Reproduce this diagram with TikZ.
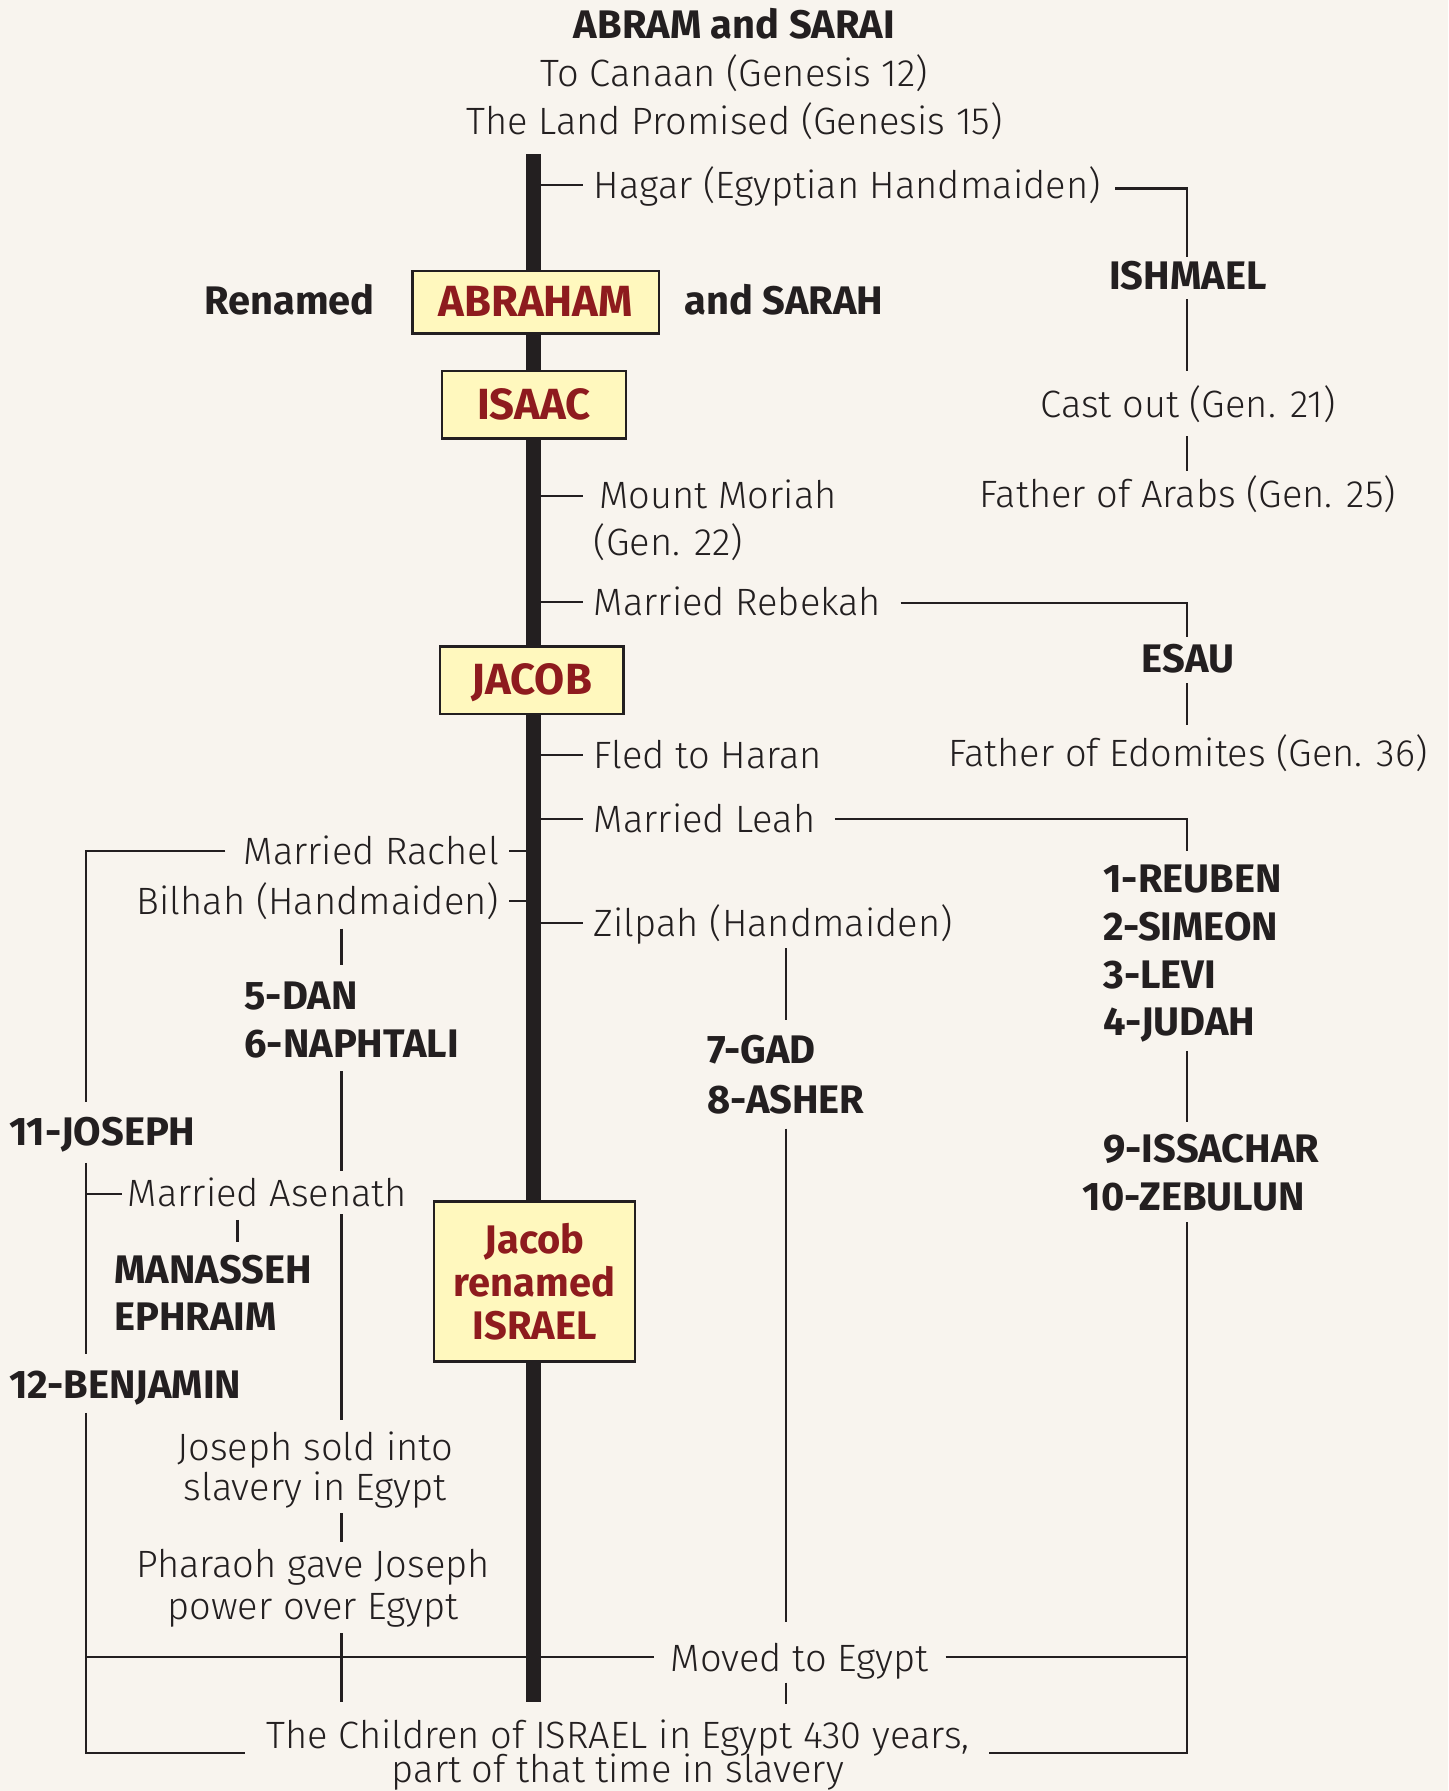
\documentclass[tikz,border=0pt]{standalone}
\usepackage{fontspec}
\setmainfont{Fira Sans}[UprightFont=* Light, BoldFont=* Bold]
\usetikzlibrary{calc}
\definecolor{bg}{HTML}{F8F4EE}
\definecolor{ink}{HTML}{231F20}
\definecolor{boxred}{HTML}{8E1B1E}
\definecolor{boxfill}{HTML}{FFF8BE}
\begin{document}
\begin{tikzpicture}[x=0.571bp,y=-0.571bp,
  txt/.style={inner sep=0pt, outer sep=0pt, text height=13.1bp, text depth=0pt, font=\fontsize{19.1}{23}\selectfont, text=ink},
  bname/.style={txt, font=\fontsize{20}{24}\selectfont\bfseries},
  namebox/.style={draw=ink, line width=1.2bp, fill=boxfill, inner sep=0pt, outer sep=0pt, text=boxred, font=\fontsize{21.9}{26}\selectfont\bfseries, align=center},
  conn/.style={draw=ink, line width=1.1bp},
]
\fill[bg] (0,0) rectangle (1268,1568);
\useasboundingbox (0,0) rectangle (1268,1568);

\coordinate (spinetop) at (467,135);
\coordinate (spinebot) at (467,1490);
\coordinate (rx) at (1039,0);
\coordinate (lx) at (75,0);
\coordinate (dx) at (299,0);
\coordinate (gx) at (688,0);
\coordinate (mx) at (208,0);

% texts
\node[bname] (title) at (643,22) {ABRAM and SARAI};
\node[txt] (canaan) at (643,64) {To Canaan (Genesis 12)};
\node[txt] (land) at (643,106) {The Land Promised (Genesis 15)};
\node[txt,anchor=west] (hagar) at (520,162) {Hagar (Egyptian Handmaiden)};
\node[bname] (ishmael) at (1040,242) {ISHMAEL};
\node[txt] (castout) at (1040,354) {Cast out (Gen. 21)};
\node[txt] (arabs) at (1040,433) {Father of Arabs (Gen. 25)};
\node[bname,anchor=east] (renamed) at (328,264) {Renamed};
\node[bname,anchor=west] (sarah) at (599,264) {and SARAH};
\node[txt,anchor=west] (moriah1) at (525,434) {Mount Moriah};
\node[txt,anchor=west] (moriah2) at (520,475) {(Gen. 22)};
\node[txt,anchor=west] (rebekah) at (520,527) {Married Rebekah};
\node[bname] (esau) at (1040,577) {ESAU};
\node[txt] (edomites) at (1040,660) {Father of Edomites (Gen. 36)};
\node[txt,anchor=west] (haran) at (520,661) {Fled to Haran};
\node[txt,anchor=west] (leah) at (520,717) {Married Leah};
\node[txt,anchor=east] (rachel) at (437,745) {Married Rachel};
\node[txt,anchor=east] (bilhah) at (437,789) {Bilhah (Handmaiden)};
\node[txt,anchor=west] (zilpah) at (520,808) {Zilpah (Handmaiden)};
\node[bname,anchor=west] (reuben) at (966,770) {1-REUBEN};
\node[bname,anchor=west] (simeon) at (966,812) {2-SIMEON};
\node[bname,anchor=west] (levi) at (966,854) {3-LEVI};
\node[bname,anchor=west] (judah) at (966,895) {4-JUDAH};
\node[bname,anchor=west] (issachar) at (966,1006) {9-ISSACHAR};
\node[bname,anchor=west] (zebulun) at (948,1048) {10-ZEBULUN};
\node[bname,anchor=west] (dan) at (214,872) {5-DAN};
\node[bname,anchor=west] (naphtali) at (214,914) {6-NAPHTALI};
\node[bname,anchor=west] (gad) at (619,920) {7-GAD};
\node[bname,anchor=west] (asher) at (619,963) {8-ASHER};
\node[bname,anchor=west] (joseph) at (8,991) {11-JOSEPH};
\node[txt,anchor=west] (asenath) at (112,1045) {Married Asenath};
\node[bname,anchor=west] (manasseh) at (100,1112) {MANASSEH};
\node[bname,anchor=west] (ephraim) at (100,1153) {EPHRAIM};
\node[bname,anchor=west] (benjamin) at (8,1213) {12-BENJAMIN};
\node[txt] (sold1) at (276,1267) {Joseph sold into};
\node[txt] (sold2) at (276,1302) {slavery in Egypt};
\node[txt] (pharaoh1) at (274,1370) {Pharaoh gave Joseph};
\node[txt] (pharaoh2) at (274,1406) {power over Egypt};
\node[txt] (moved) at (700,1452) {Moved to Egypt};
\node[txt] (children1) at (541,1519) {The Children of ISRAEL in Egypt 430 years,};
\node[txt] (children2) at (541,1549) {part of that time in slavery};

% spine ticks
\draw[conn] (spinetop |- hagar.west) -- ($(hagar.west)+(-10,0)$);
\draw[conn] (spinetop |- moriah1.west) -- ($(moriah1.west)+(-15,0)$);
\draw[conn] (spinetop |- rebekah.west) -- ($(rebekah.west)+(-10,0)$);
\draw[conn] (spinetop |- haran.west) -- ($(haran.west)+(-10,0)$);
\draw[conn] (spinetop |- leah.west) -- ($(leah.west)+(-10,0)$);
\draw[conn] (spinetop |- zilpah.west) -- ($(zilpah.west)+(-10,0)$);
\draw[conn] (spinetop |- rachel.east) -- ($(rachel.east)+(9,0)$);
\draw[conn] (spinetop |- bilhah.east) -- ($(bilhah.east)+(9,0)$);

% right column
\draw[conn] ($(hagar.east)+(13,3)$) -| ($(rx |- ishmael)+(0,-17)$);
\draw[conn] ($(rx|-ishmael)+(0,20)$) -- ($(rx|-castout)+(0,-29)$);
\draw[conn] ($(rx|-castout)+(0,28)$) -- ($(rx|-arabs)+(0,-21)$);
\draw[conn] ($(rebekah.east)+(17,1)$) -| ($(rx|-esau)+(0,-19)$);
\draw[conn] ($(rx|-esau)+(0,21)$) -- ($(rx|-edomites)+(0,-25)$);
\draw[conn] ($(leah.east)+(17,0)$) -| ($(rx|-reuben)+(0,-25)$);
\draw[conn] ($(rx|-judah)+(0,25)$) -- ($(rx|-issachar)+(0,-24)$);
\draw[conn] ($(rx|-zebulun)+(0,22)$) -- ($(rx|-children1)+(0,16)$) -- ($(children1.east)+(17,16)$);
\draw[conn] ($(moved.east)+(15,-1)$) -- ($(rx |- moved)+(0,-1)$);

% left columns
\draw[conn] ($(rachel.west)+(-16,0)$) -| ($(lx|-joseph)+(0,-26)$);
\draw[conn] ($(dx|-bilhah)+(0,24)$) -- ($(dx|-dan)+(0,-27)$);
\draw[conn] ($(dx|-naphtali)+(0,24)$) -- ($(dx|-asenath)+(0,-20)$);
\draw[conn] ($(dx|-asenath)+(0,18)$) -- ($(dx|-sold1)+(0,-24)$);
\draw[conn] ($(dx|-sold2)+(0,23)$) -- ($(dx|-pharaoh1)+(0,-20)$);
\draw[conn] ($(dx|-pharaoh2)+(0,24)$) -- (dx |- spinebot);
\draw[conn] ($(gx|-zilpah)+(0,22)$) -- ($(gx|-gad)+(0,-27)$);
\draw[conn] ($(gx|-asher)+(0,25)$) -- ($(gx|-moved)+(0,-32)$);
\draw[conn] ($(gx|-moved)+(0,21)$) -- ($(gx|-children1)+(0,-27)$);
\draw[conn] ($(lx|-joseph)+(0,27)$) -- ($(lx|-benjamin)+(0,-28)$);
\draw[conn] (lx|-asenath) -- ($(asenath.west)+(-5,0)$);
\draw[conn] ($(mx|-asenath)+(0,23)$) -- ($(mx|-manasseh)+(0,-25)$);
\draw[conn] ($(lx|-benjamin)+(0,24)$) -- ($(lx|-children1)+(0,16)$) -- ($(children1.west)+(-19,16)$);
\draw[conn] ($(lx|-moved)+(0,-1)$) -- ($(moved.west)+(-15,-1)$);

% spine and boxes
\draw[ink, line width=7.4bp] (spinetop) -- (spinebot);
\node[namebox, minimum width=123.3bp, minimum height=31.4bp, text height=14.2bp, text depth=0pt] (abraham) at (469,264.5) {ABRAHAM};
\node[namebox, minimum width=91.9bp, minimum height=33.7bp, text height=14.2bp, text depth=0pt] (isaac) at (467.5,354.5) {ISAAC};
\node[namebox, minimum width=91.9bp, minimum height=33.7bp, text height=14.2bp, text depth=0pt] (jacob) at (465.5,595.5) {JACOB};
\node[namebox, minimum width=100.5bp, minimum height=79.9bp, font=\fontsize{20}{21.7}\selectfont\bfseries] (israel) at (468,1122) {Jacob\\renamed\\ISRAEL};
\end{tikzpicture}
\end{document}
